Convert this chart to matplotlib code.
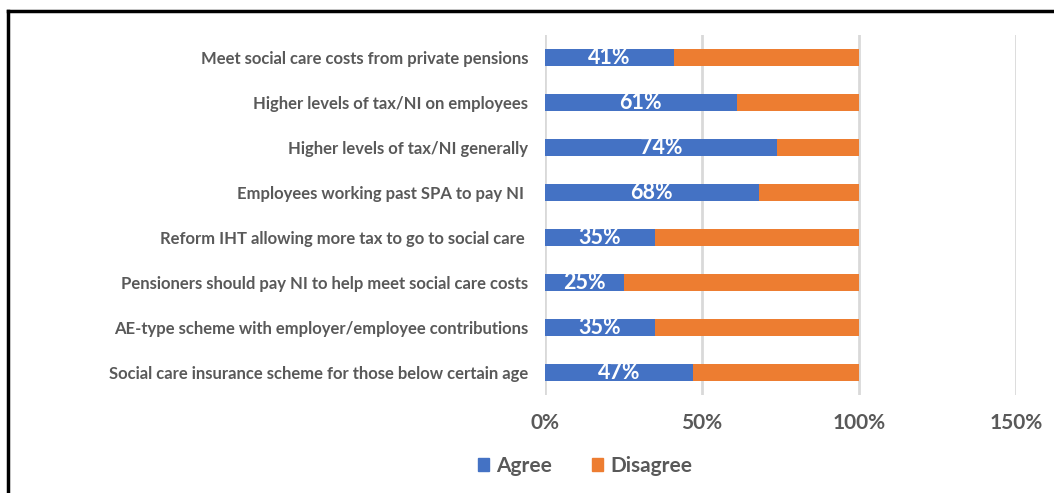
import matplotlib
matplotlib.use("Agg")
import matplotlib.pyplot as plt
from matplotlib.lines import Line2D
from matplotlib.patches import Patch

categories = [
    "Meet social care costs from private pensions",
    "Higher levels of tax/NI on employees",
    "Higher levels of tax/NI generally",
    "Employees working past SPA to pay NI ",
    "Reform IHT allowing more tax to go to social care ",
    "Pensioners should pay NI to help meet social care costs",
    "AE-type scheme with employer/employee contributions",
    "Social care insurance scheme for those below certain age",
]
agree = [41, 61, 74, 68, 35, 25, 35, 47]
disagree = [59, 39, 26, 32, 65, 75, 65, 53]
xticks = [0, 50, 100, 150]
xtick_labels = ["0%", "50%", "100%", "150%"]

BLUE = "#4472C4"
ORANGE = "#ED7D31"
GREY = "#595959"
FONT = "Lato"

fig = plt.figure(figsize=(10.54, 4.93), dpi=100)
ax = fig.add_axes([545/1054, 1-395/493, (1016-545)/1054, (395-35)/493])

y = list(range(len(categories)))
ax.barh(y, agree, height=0.38, color=BLUE, label="Agree", zorder=3)
ax.barh(y, disagree, left=agree, height=0.38, color=ORANGE, label="Disagree", zorder=3)

for yi, a in zip(y, agree):
    ax.text(a/2, yi, f"{a}%", ha="center", va="center", color="white",
            fontsize=15.5, fontweight="bold", family=FONT, zorder=4)

ax.set_xlim(0, 150)
ax.set_ylim(len(categories)-0.5, -0.5)
ax.set_xticks(xticks)
ax.set_xticklabels(xtick_labels, fontsize=15, fontweight="bold", color=GREY, family=FONT)
ax.set_yticks(y)
ax.set_yticklabels(categories, fontsize=12, fontweight="bold", color=GREY, family=FONT)
ax.tick_params(axis="both", length=0)
ax.tick_params(axis="x", pad=13)
ax.tick_params(axis="y", pad=12)
for s in ax.spines.values():
    s.set_visible(False)
ax.grid(axis="x", color="#D9D9D9", linewidth=2, zorder=0)
ax.set_axisbelow(True)

handles = [Patch(color=BLUE, label="Agree"), Patch(color=ORANGE, label="Disagree")]
leg = fig.legend(handles=handles, loc="center", bbox_to_anchor=(585/1054, 1-466/493),
                 ncol=2, frameon=False, handlelength=0.55, handleheight=0.55,
                 handletextpad=0.35, columnspacing=1.9,
                 prop={"family": FONT, "weight": "bold", "size": 15})
for t in leg.get_texts():
    t.set_color(GREY)

# figure border (left and top visible)
fig.add_artist(Line2D([8/1054, 8/1054], [0, 1-11/493], transform=fig.transFigure,
                      color="black", linewidth=2.5))
fig.add_artist(Line2D([8/1054, 1], [1-11/493, 1-11/493], transform=fig.transFigure,
                      color="black", linewidth=2.5))

fig.savefig("out.png", dpi=100)
